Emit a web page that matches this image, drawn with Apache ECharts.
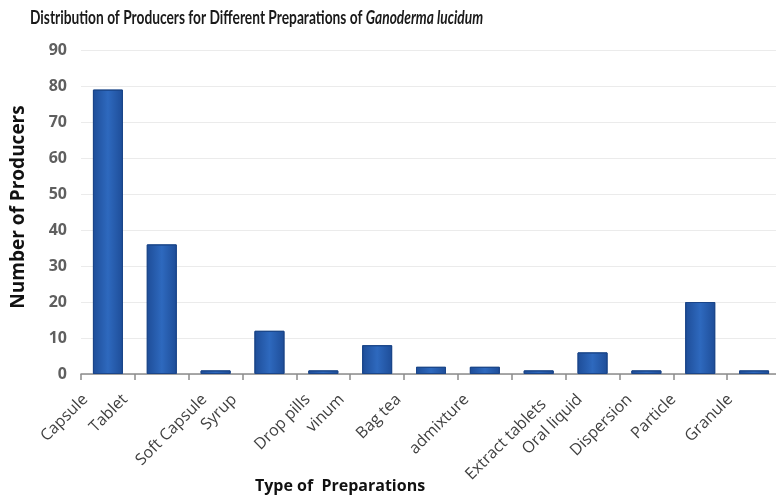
<!DOCTYPE html>
<html>
<head>
<meta charset="UTF-8">
<title></title>
<script src="https://cdn.jsdelivr.net/npm/echarts@6/dist/echarts.min.js"></script>
</head>
<body style="margin:0">
<div id="main" style="width:776px;height:503px"></div>
<script>
var categories = ['Capsule', 'Tablet', 'Soft Capsule', 'Syrup', 'Drop pills', 'vinum', 'Bag tea',
    'admixture', 'Extract tablets', 'Oral liquid', 'Dispersion', 'Particle', 'Granule'];
var producers = [79, 36, 1, 12, 1, 8, 2, 2, 1, 6, 1, 20, 1];
// label nudges (padding) so the rotated labels sit like in the original
var labelPad = [[0, 16, 32, 0], [0, 26, 52, 0], [0, 8, 16, 0], [0, 25, 50, 0], [0, 11, 22, 0],
    [0, 25, 50, 0], [0, 23, 46, 0], [0, 13, 26, 0], [14, 0, 0, 0], [0, 9, 18, 0],
    [0, 12, 24, 0], [0, 19, 38, 0], [0, 17, 34, 0]];

var chart = echarts.init(document.getElementById('main'));
var barColor = new echarts.graphic.LinearGradient(0, 0, 1, 0, [
    { offset: 0, color: '#1e4d98' },
    { offset: 0.5, color: '#2e69be' },
    { offset: 1, color: '#1e4d98' }
]);
var labelRich = {};
labelPad.forEach(function (p, i) {
    labelRich['p' + i] = { padding: p, fontFamily: 'Open Sans', fontSize: 16, color: '#3f3f3f' };
});
var option = {
    backgroundColor: '#fff',
    graphic: [{
        type: 'text',
        x: 30, y: 9,
        scaleX: 0.765,
        style: {
            text: '{n|Distribution of Producers for Different Preparations of }{i|Ganoderma lucidum}',
            rich: {
                n: { fontFamily: 'Lato', fontWeight: 'bold', fontSize: 18, fill: '#1a1a1a' },
                i: { fontFamily: 'Lato', fontWeight: 'bold', fontStyle: 'italic', fontSize: 18, fill: '#1a1a1a' }
            }
        }
    }],
    grid: { left: 81, top: 50, width: 700, height: 324, outerBoundsMode: 'none' },
    xAxis: {
        type: 'category',
        data: categories,
        name: 'Type of  Preparations',
        nameLocation: 'middle',
        nameGap: 104,
        nameMoveOverlap: false,
        nameTextStyle: { fontFamily: 'Open Sans', fontWeight: 'bold', fontSize: 16, color: '#111', padding: [0, 182, 0, 0] },
        axisLine: { lineStyle: { color: '#8c8c8c', width: 1.5 } },
        axisTick: { show: true, length: 6, lineStyle: { color: '#8c8c8c', width: 1.5 } },
        axisLabel: {
            rotate: 45, margin: 23, interval: 0,
            formatter: function (v, i) { return '{p' + i + '|' + v + '}'; },
            rich: labelRich
        }
    },
    yAxis: {
        type: 'value',
        min: 0, max: 90, interval: 10,
        name: 'Number of Producers',
        nameLocation: 'middle',
        nameGap: 53,
        nameMoveOverlap: false,
        nameTextStyle: { fontFamily: 'Open Sans', fontWeight: 'bold', fontSize: 19, color: '#111', padding: [0, 0, 0, 10] },
        axisLabel: { fontFamily: 'Open Sans', fontWeight: 'bold', fontSize: 16, color: '#5f5f5f', margin: 14 },
        splitLine: { lineStyle: { color: '#ebebeb' } }
    },
    series: [{
        type: 'bar',
        data: producers,
        barWidth: 30,
        itemStyle: { color: barColor, borderColor: '#1a4589', borderWidth: 1 }
    }]
};
chart.setOption(option);
</script>
</body>
</html>
